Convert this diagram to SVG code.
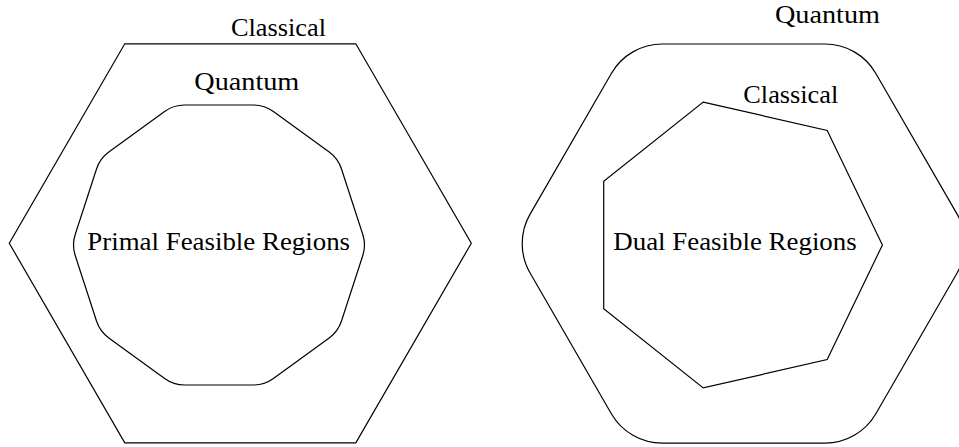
<svg xmlns="http://www.w3.org/2000/svg" width="959" height="447" viewBox="0 0 959 447">
<style>
.shape{fill:none;stroke:#000;stroke-width:1.2;stroke-linejoin:miter}
.lbl{font-family:"Liberation Serif","DejaVu Serif",serif;font-size:25px;fill:#000;text-anchor:middle}
</style>
<rect width="959" height="447" fill="#fff"/>
<g id="primal-classical">
<polygon class="shape" points="124.8,43.8 355.8,43.8 471.3,243.3 355.8,442.8 124.8,442.8 9.3,243.3"/>
<text class="lbl" x="278.5" y="36" textLength="95" lengthAdjust="spacingAndGlyphs">Classical</text>
</g>
<g id="primal-quantum">
<path class="shape" d="M184.51,105.01 L253.49,105.01 A33.85,33.85 0 0 1 273.39,111.48 L329.19,152.01 A33.85,33.85 0 0 1 341.49,168.94 L362.8,234.54 A33.85,33.85 0 0 1 362.8,255.46 L341.49,321.06 A33.85,33.85 0 0 1 329.19,337.99 L273.39,378.52 A33.85,33.85 0 0 1 253.49,384.99 L184.51,384.99 A33.85,33.85 0 0 1 164.61,378.52 L108.81,337.99 A33.85,33.85 0 0 1 96.51,321.06 L75.2,255.46 A33.85,33.85 0 0 1 75.2,234.54 L96.51,168.94 A33.85,33.85 0 0 1 108.81,152.01 L164.61,111.48 A33.85,33.85 0 0 1 184.51,105.01 Z"/>
<text class="lbl" x="246.8" y="90" textLength="105" lengthAdjust="spacingAndGlyphs">Quantum</text>
<text class="lbl" x="218.7" y="249.5" textLength="262.7" lengthAdjust="spacingAndGlyphs">Primal Feasible Regions</text>
</g>
<g id="dual-quantum">
<path class="shape" d="M662.35,44 L824.85,44 A58.9,58.9 0 0 1 875.85,73.44 L957.1,214.16 A58.9,58.9 0 0 1 957.1,273.04 L875.85,413.76 A58.9,58.9 0 0 1 824.85,443.2 L662.35,443.2 A58.9,58.9 0 0 1 611.35,413.76 L530.1,273.04 A58.9,58.9 0 0 1 530.1,214.16 L611.35,73.44 A58.9,58.9 0 0 1 662.35,44 Z"/>
<text class="lbl" x="827.5" y="22.7" textLength="105" lengthAdjust="spacingAndGlyphs">Quantum</text>
</g>
<g id="dual-classical">
<polygon class="shape" points="703.2,102.1 827.2,130.4 882.4,245 827.2,359.6 703.2,387.9 603.7,308.6 603.7,181.4"/>
<text class="lbl" x="790.8" y="102.7" textLength="95" lengthAdjust="spacingAndGlyphs">Classical</text>
<text class="lbl" x="735" y="249.5" textLength="243.4" lengthAdjust="spacingAndGlyphs">Dual Feasible Regions</text>
</g>
<g id="connectors"/>
</svg>
